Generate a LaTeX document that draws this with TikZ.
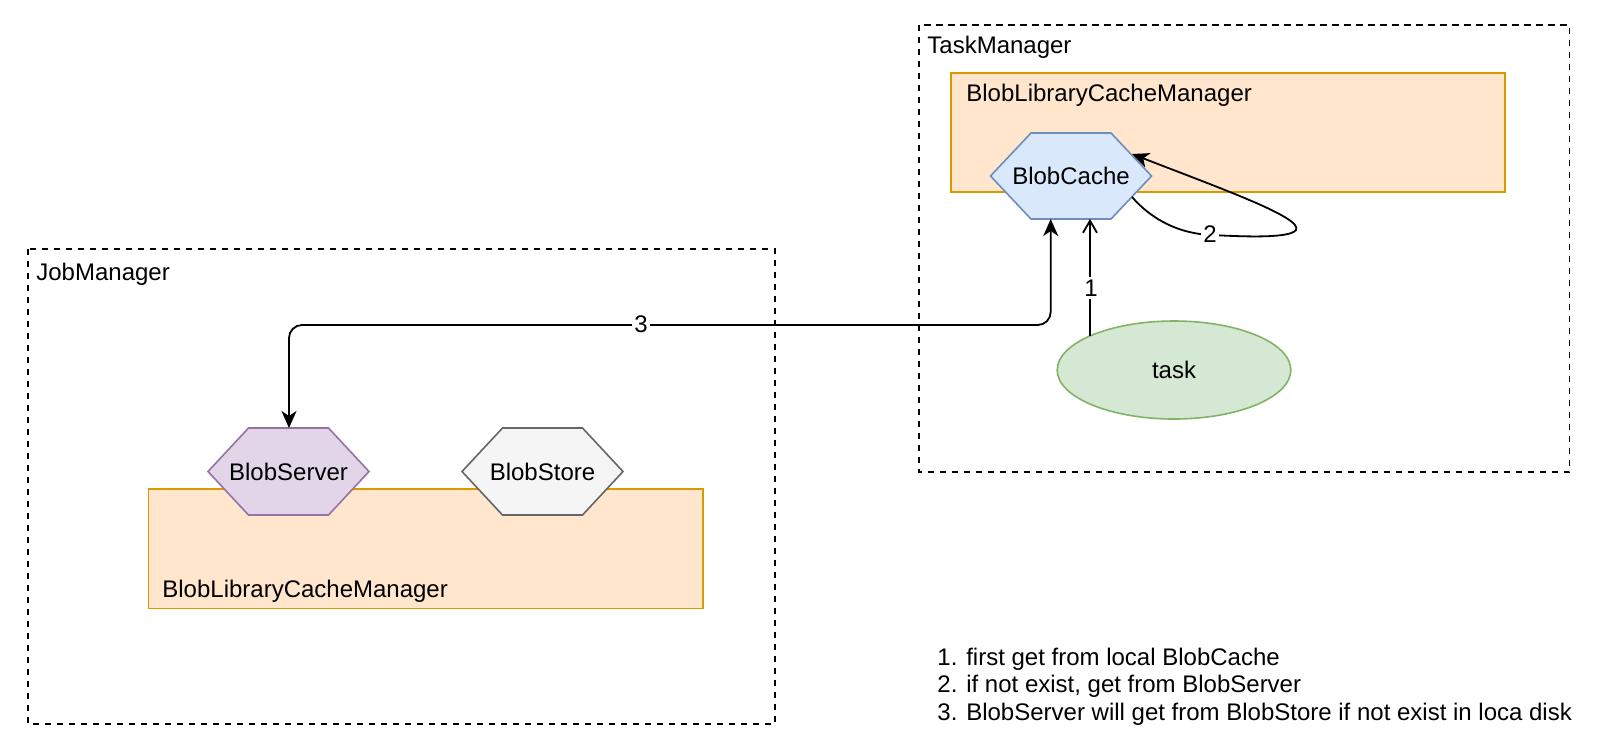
\documentclass[tikz,border=0pt]{standalone}
\usepackage{fontspec}
\setmainfont{Liberation Sans}
\usetikzlibrary{arrows.meta,shapes.geometric}
\definecolor{orfill}{HTML}{FFE6CC}
\definecolor{ordraw}{HTML}{D79B00}
\definecolor{blfill}{HTML}{DAE8FC}
\definecolor{bldraw}{HTML}{6C8EBF}
\definecolor{pufill}{HTML}{E1D5E7}
\definecolor{pudraw}{HTML}{9673A6}
\definecolor{grfill}{HTML}{F5F5F5}
\definecolor{grdraw}{HTML}{666666}
\definecolor{gnfill}{HTML}{D5E8D4}
\definecolor{gndraw}{HTML}{82B366}
\tikzset{
  txt/.style={font=\fontsize{12}{14}\selectfont, inner sep=0pt},
  lbl/.style={txt, fill=white, inner sep=1.2pt},
  dashbox/.style={draw=black, line width=0.9pt, dash pattern=on 3.2pt off 2.8pt},
  orbox/.style={draw=ordraw, fill=orfill, line width=0.9pt},
  hexshape/.style={line width=0.8pt},
  conn/.style={draw=black, line width=0.9pt},
  filltip/.style={-{Stealth[length=8.5pt,width=7.5pt,inset=2.5pt]}},
}
\begin{document}
\begin{tikzpicture}[x=0.5pt,y=-0.5pt]
\useasboundingbox (0,0) rectangle (1606,752);
\fill[white] (0,0) rectangle (1606,752);
% JobManager
\draw[dashbox] (28,249) rectangle (775,724);
\node[txt, anchor=base west] (jmlabel) at (36,280) {JobManager};
\draw[orbox] (148.5,489) rectangle (703,608.5);
\node[txt, anchor=base west] (jmblcm) at (162,597) {BlobLibraryCacheManager};
% TaskManager
\draw[dashbox] (919,24.6) rectangle (1569.5,472);
\node[txt, anchor=base west] (tmlabel) at (927,53) {TaskManager};
\draw[orbox] (951,72.7) rectangle (1505,192.3);
\node[txt, anchor=base west] (tmblcm) at (966,101) {BlobLibraryCacheManager};
% hexagons
\path[hexshape, fill=pufill, draw=pudraw]
  (208,471.5) -- (248.5,428) -- (328.5,428) -- (369,471.5) -- (328.5,515) -- (248.5,515) -- cycle;
\node[txt] (bs) at (288.5,471.5) {BlobServer};
\path[hexshape, fill=grfill, draw=grdraw]
  (462,471.5) -- (502.5,428) -- (582.5,428) -- (623,471.5) -- (582.5,515) -- (502.5,515) -- cycle;
\node[txt] (bst) at (542.5,471.5) {BlobStore};
\path[hexshape, fill=blfill, draw=bldraw]
  (990.5,176) -- (1031,133) -- (1111,133) -- (1151.5,176) -- (1111,219) -- (1031,219) -- cycle;
\node[txt] (bc) at (1071,176) {BlobCache};
% task
\node[ellipse, draw=gndraw, fill=gnfill, line width=0.8pt, minimum width=116.8pt, minimum height=49pt, txt] (task) at (1174,370) {task};
% connector end points
\coordinate (bcb3) at (1050.7,219);
\coordinate (bsb3) at (289,428);
\coordinate (bcb1) at (1090,219);
\coordinate (tk1) at (1090,336);
\coordinate (bcs2) at (1132,197);
\coordinate (bce2) at (1132,154);
% arrow 3
\draw[conn, {Stealth[length=8.5pt,width=7.5pt,inset=2.5pt]}-{Stealth[length=8.5pt,width=7.5pt,inset=2.5pt]}, rounded corners=6.5pt]
  (bcb3) -- (1050.7,325) -- (289,325) -- (bsb3);
\node[lbl] (l3) at (641,324) {3};
% arrow 1
\draw[conn, -{Straight Barb[length=6pt,width=7pt]}] (tk1) -- (bcb1);
\node[lbl] (l1) at (1091,288) {1};
% arrow 2
\draw[conn, filltip]
  (bcs2) .. controls (1152,220) and (1180,234) .. (1212,235)
  .. controls (1250,237) and (1290,238) .. (1296,230)
  .. controls (1303,218) and (1225,190) .. (bce2);
\node[lbl] (l2) at (1210,234) {2};
% notes
\node[txt, anchor=base west] (n1) at (937,665) {1. first get from local BlobCache};
\node[txt, anchor=base west] (n2) at (937,692.5) {2. if not exist, get from BlobServer};
\node[txt, anchor=base west] (n3) at (937,720) {3. BlobServer will get from BlobStore if not exist in loca disk};
\end{tikzpicture}
\end{document}
